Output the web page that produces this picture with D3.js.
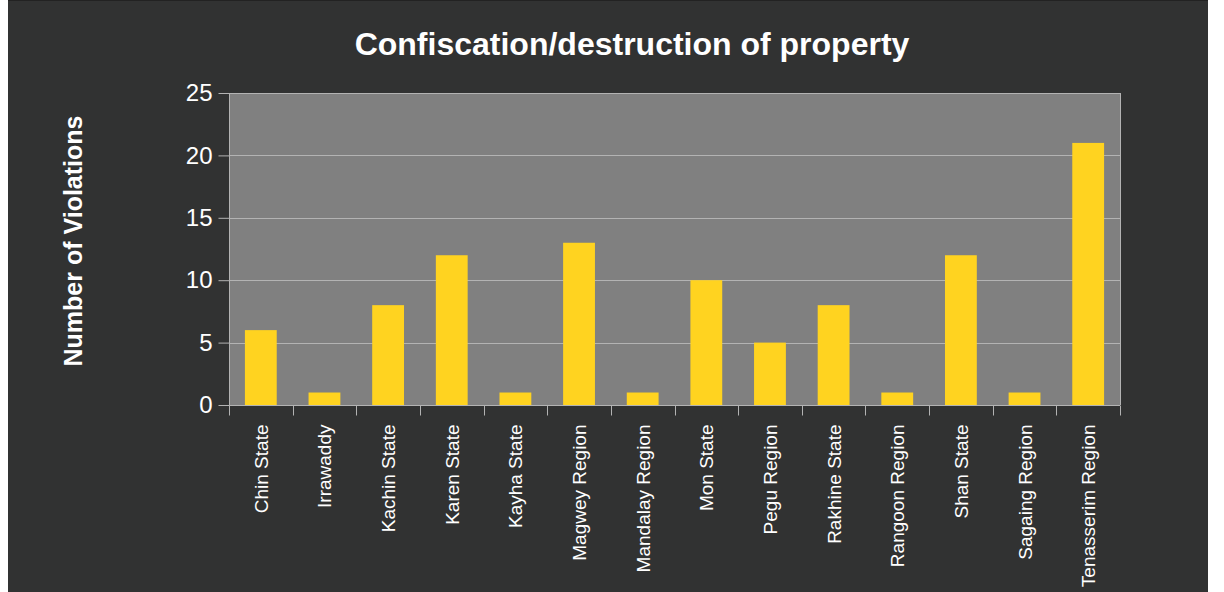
<!DOCTYPE html>
<html><head><meta charset="utf-8">
<script src="https://cdn.jsdelivr.net/npm/d3@7"></script>
<style>html,body{margin:0;padding:0;background:#fff;}svg{display:block;}</style>
</head><body>
<svg id="c" width="1224" height="592"></svg>
<script>
const categories = ["Chin State","Irrawaddy","Kachin State","Karen State","Kayha State","Magwey Region","Mandalay Region","Mon State","Pegu Region","Rakhine State","Rangoon Region","Shan State","Sagaing Region","Tenasserim Region"];
const values = [6,1,8,12,1,13,1,10,5,8,1,12,1,21];
const yTicks = [0,5,10,15,20,25];
const title = "Confiscation/destruction of property";
const yTitle = "Number of Violations";

const svg = d3.select("#c");
const font = "'Liberation Sans', Arial, sans-serif";
svg.append("rect").attr("x",8).attr("y",0).attr("width",1200).attr("height",592).attr("fill","#313232");
svg.append("line").attr("x1",8).attr("x2",1208).attr("y1",0.5).attr("y2",0.5).attr("stroke","#222").attr("stroke-width",1);

const L=229, R=1120, T=93, B=405;
const x = d3.scaleBand().domain(categories).range([L,R]).paddingInner(0).paddingOuter(0);
const y = d3.scaleLinear().domain([0,25]).range([B,T]);

svg.append("rect").attr("x",L).attr("y",T).attr("width",R-L).attr("height",B-T).attr("fill","#808080");

// grid
svg.selectAll(".grid").data(yTicks).enter().append("line")
  .attr("x1",L).attr("x2",R).attr("y1",d=>Math.round(y(d))+0.5).attr("y2",d=>Math.round(y(d))+0.5)
  .attr("stroke","#b3b3b3").attr("stroke-width",1);
svg.append("line").attr("x1",R+0.5).attr("x2",R+0.5).attr("y1",T).attr("y2",B).attr("stroke","#b3b3b3");

// bars
const bw = x.bandwidth()*0.5;
svg.selectAll(".bar").data(values).enter().append("rect")
  .attr("x",(d,i)=>x(categories[i])+x.bandwidth()/2-bw/2)
  .attr("y",d=>y(d)).attr("width",bw).attr("height",d=>B-y(d))
  .attr("fill","#FFD320");

// y axis
const yAxis = d3.axisLeft(y).tickValues(yTicks).tickSize(11).tickPadding(6).tickFormat(d3.format("d"));
const gy = svg.append("g").attr("transform",`translate(${L+0.5},0)`).call(yAxis);
gy.select(".domain").attr("stroke","#b3b3b3").attr("d",`M0,${T}V${B}`);
gy.selectAll(".tick line").attr("stroke","#b3b3b3");
gy.selectAll(".tick text").attr("fill","#fff").style("font-family",font).style("font-size","24px");

// x axis
const gx = svg.append("g").attr("transform",`translate(0,${B+0.5})`);
gx.append("line").attr("x1",L).attr("x2",R).attr("y1",0).attr("y2",0).attr("stroke","#b3b3b3");
const bounds = categories.map(c=>x(c)).concat([R]);
gx.selectAll(".bt").data(bounds).enter().append("line")
  .attr("x1",d=>Math.round(d)+0.5).attr("x2",d=>Math.round(d)+0.5).attr("y1",0).attr("y2",10).attr("stroke","#b3b3b3");
gx.selectAll(".lbl").data(categories).enter().append("text")
  .attr("transform",d=>`translate(${x(d)+x.bandwidth()/2+7},${19}) rotate(-90)`)
  .attr("text-anchor","end").attr("fill","#fff")
  .style("font-family",font).style("font-size","19px").text(d=>d);

// titles
svg.append("text").attr("x",632).attr("y",55).attr("text-anchor","middle").attr("fill","#fff")
  .style("font-family",font).style("font-size","32px").style("font-weight","bold").text(title);
svg.append("text").attr("transform","translate(82,241) rotate(-90)").attr("text-anchor","middle").attr("fill","#fff")
  .style("font-family",font).style("font-size","25px").style("font-weight","bold").text(yTitle);
</script>
</body></html>
